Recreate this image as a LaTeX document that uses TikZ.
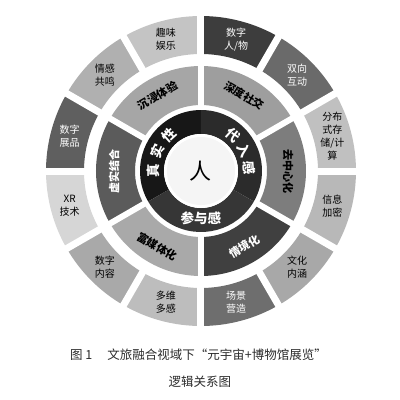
\documentclass[tikz,border=0pt]{standalone}
\usepackage{fontspec}
\setmainfont{Noto Sans CJK SC}

\def\rc{37pt}
\def\ria{61pt}
\def\rma{66pt}
\def\rmb{105pt}
\def\roa{117pt}
\def\rob{155pt}

\definecolor{o1}{HTML}{3D3D3D}
\definecolor{o2}{HTML}{C4C4C4}
\definecolor{o3}{HTML}{B0B0B0}
\definecolor{o4}{HTML}{5F5F5F}
\definecolor{o5}{HTML}{D6D6D6}
\definecolor{o6}{HTML}{A9A9A9}
\definecolor{o7}{HTML}{BDBDBD}
\definecolor{o8}{HTML}{6E6E6E}
\definecolor{o9}{HTML}{A8A8A8}
\definecolor{o10}{HTML}{B8B8B8}
\definecolor{o11}{HTML}{C0C0C0}
\definecolor{o12}{HTML}{6A6A6A}
\definecolor{m1}{HTML}{A6A6A6}
\definecolor{m2}{HTML}{9E9E9E}
\definecolor{m3}{HTML}{7D7D7D}
\definecolor{m4}{HTML}{404040}
\definecolor{m5}{HTML}{A9A9A9}
\definecolor{m6}{HTML}{5B5B5B}
\definecolor{capgray}{HTML}{2A2A2A}

\tikzset{
  outtxt/.style={font=\fontsize{10}{13}\selectfont, align=center, inner sep=0pt},
  midtxt/.style={font=\bfseries\fontsize{11}{13}\selectfont, inner sep=0pt},
  intxt/.style={font=\bfseries\fontsize{13.5}{13.5}\selectfont, text=white, inner sep=0pt},
  captxt/.style={font=\fontsize{12.5}{14}\selectfont, text=capgray},
  gapline/.style={white, line width=7pt}
}

\begin{document}
\begin{tikzpicture}
\useasboundingbox (-201pt,-229pt) rectangle (199pt,171pt);

%outer ring, 12 parts of 30 degrees
\foreach \a/\c/\t/\l [count=\i] in {60/o1/white/{数字\\人/物}, 90/o2/black/{趣味\\娱乐},
    120/o3/black/{情感\\共鸣}, 150/o4/white/{数字\\展品}, 180/o5/black/{XR\\技术},
    210/o6/black/{数字\\内容}, 240/o7/black/{多维\\多感}, 270/o8/white/{场景\\营造},
    300/o9/black/{文化\\内涵}, 330/o10/black/{信息\\加密}, 0/o11/black/{分布\\式存\\储/计\\算},
    30/o12/white/{双向\\互动}}{
   \pgfmathsetmacro{\b}{\a+30}
   \pgfmathsetmacro{\m}{\a+15}
   \fill[\c] (\a:\roa) arc[start angle=\a, end angle=\b, radius=\roa]
      -- (\b:\rob) arc[start angle=\b, end angle=\a, radius=\rob] -- cycle;
   \node[outtxt, text=\t] (out\i) at (\m:136pt) {\l};
}
\foreach \a in {0,30,...,330}{
   \draw[gapline] (\a:114pt) -- (\a:158pt);
}

%middle ring, 6 parts
\foreach \a/\c/\t/\l/\r [count=\i] in {90/m1/black/沉浸体验/30, 30/m2/black/深度社交/-30,
    -30/m3/black/去中心化/-90, -90/m4/white/情境化/30, -150/m5/black/富媒体化/-30,
    150/m6/white/虚实结合/90}{
   \pgfmathsetmacro{\b}{\a+60}
   \pgfmathsetmacro{\m}{\a+30}
   \fill[\c] (\a:\rma) arc[start angle=\a, end angle=\b, radius=\rma]
      -- (\b:\rmb) arc[start angle=\b, end angle=\a, radius=\rmb] -- cycle;
   \node[midtxt, text=\t, rotate=\r] (mid\i) at (\m:87pt) {\l};
}
\foreach \a in {30,90,...,330}{
   \draw[white, line width=6pt] (\a:63pt) -- (\a:108pt);
}

%inner ring
\fill[black!91] (90:\rc) arc[start angle=90, end angle=210, radius=\rc]
   -- (210:\ria) arc[start angle=210, end angle=90, radius=\ria] -- cycle;
\fill[black!83] (-30:\rc) arc[start angle=-30, end angle=90, radius=\rc]
   -- (90:\ria) arc[start angle=90, end angle=-30, radius=\ria] -- cycle;
\fill[black!79] (210:\rc) arc[start angle=210, end angle=330, radius=\rc]
   -- (330:\ria) arc[start angle=330, end angle=210, radius=\ria] -- cycle;

\foreach \ch/\ang [count=\i] in {真/180, 实/156, 性/132}{
   \node[intxt, rotate=\ang-90] (real\i) at (\ang:48pt) {\ch};
}
\foreach \ch/\ang [count=\i] in {代/48, 入/26, 感/4}{
   \node[intxt, rotate=\ang-90] (sub\i) at (\ang:48pt) {\ch};
}
\node[intxt] (join) at (0pt,-47pt) {参与感};

%center
\fill[white] (0,0) circle [radius=\rc];
\fill[black!4] (0,0) circle [radius=34pt];
\node[font=\fontsize{22}{22}\selectfont] (man) at (0,0) {人};

%caption
\node[captxt] (cap1) at (-2.5pt,-184pt)
   {图 1\hspace{1.2em}文旅融合视域下“元宇宙+博物馆展览”};
\node[captxt] (cap2) at (-1pt,-211pt) {逻辑关系图};

\end{tikzpicture}
\end{document}
